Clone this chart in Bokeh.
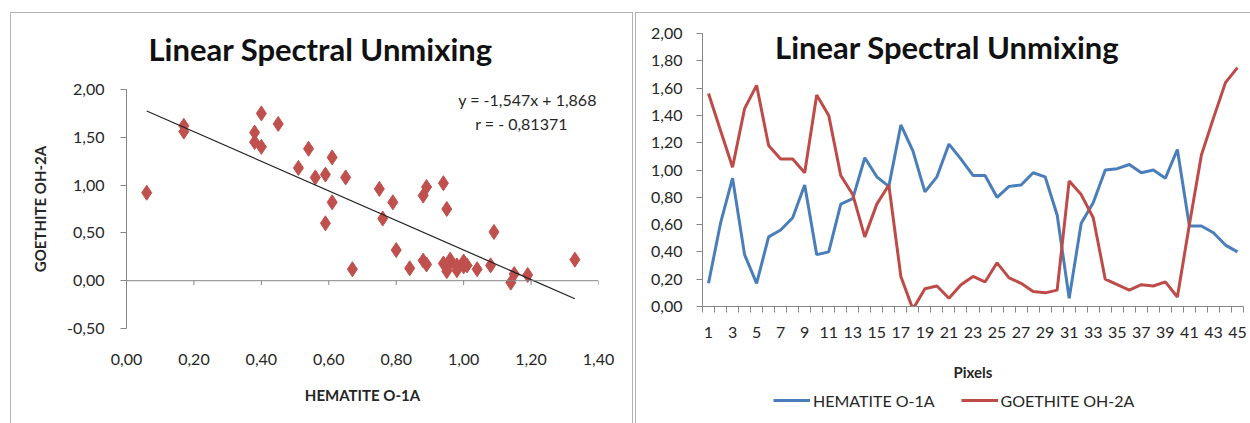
from bokeh.plotting import figure
from bokeh.layouts import row, column
from bokeh.models import FixedTicker, Span, Label, Legend, LegendItem
from bokeh.core.properties import value
from bokeh.embed import file_html
from bokeh.resources import INLINE

# ---------------- data ----------------
pixels = [1, 2, 3, 4, 5, 6, 7, 8, 9, 10, 11, 12, 13, 14, 15, 16, 17, 18, 19, 20, 21, 22, 23,
          24, 25, 26, 27, 28, 29, 30, 31, 32, 33, 34, 35, 36, 37, 38, 39, 40, 41, 42, 43, 44, 45]
hematite = [0.17, 0.61, 0.94, 0.38, 0.17, 0.51, 0.56, 0.65, 0.89, 0.38, 0.40, 0.75, 0.79, 1.09,
            0.95, 0.88, 1.33, 1.14, 0.84, 0.95, 1.19, 1.08, 0.96, 0.96, 0.80, 0.88, 0.89, 0.98,
            0.95, 0.67, 0.06, 0.61, 0.76, 1.00, 1.01, 1.04, 0.98, 1.00, 0.94, 1.15, 0.59, 0.59,
            0.54, 0.45, 0.40]
goethite = [1.56, 1.29, 1.02, 1.45, 1.62, 1.18, 1.08, 1.08, 0.98, 1.55, 1.40, 0.96, 0.82, 0.51,
            0.75, 0.89, 0.22, -0.02, 0.13, 0.15, 0.06, 0.16, 0.22, 0.18, 0.32, 0.21, 0.17, 0.11,
            0.10, 0.12, 0.92, 0.82, 0.65, 0.20, 0.16, 0.12, 0.16, 0.15, 0.18, 0.07, 0.60, 1.11,
            1.38, 1.64, 1.75]
slope = -1.547
intercept = 1.868
r_value = -0.81371

title_text = "Linear Spectral Unmixing"
eq_text = "y = -1,547x + 1,868"
r_text = "r = - 0,81371"
scatter_x_ticks = [0.0, 0.2, 0.4, 0.6, 0.8, 1.0, 1.2, 1.4]
scatter_y_ticks = [-0.5, 0.0, 0.5, 1.0, 1.5, 2.0]
line_y_ticks = [0.0, 0.2, 0.4, 0.6, 0.8, 1.0, 1.2, 1.4, 1.6, 1.8, 2.0]
pixel_label_ticks = pixels[::2]
series_names = ["HEMATITE O-1A", "GOETHITE OH-2A"]


def comma(v):
    return f"{v:.2f}".replace(".", ",")


def frame_lines(lines):
    """CSS background layers drawing thin panel border lines: (x, y, w, h)."""
    g = "linear-gradient(#b3b3b3,#b3b3b3)"
    layers = [f"{g} {x}px {y}px / {w}px {h}px no-repeat" for (x, y, w, h) in lines]
    return ", ".join(layers + ["#ffffff"])


FONT = "Lato"
AX = "#868686"
TXT = "#262626"
BLUE = "#4a7ebb"
RED = "#be4b48"
SCAT = "#c0504d"

# ---------------- left: scatter ----------------
p1 = figure(width=633, height=423, x_range=(0, 1.4), y_range=(-0.5, 2.0),
            output_backend="svg", toolbar_location=None,
            min_border_left=126, min_border_right=35, min_border_top=89, min_border_bottom=95)
p1.styles = {"background": frame_lines([(10, 12, 1, 411), (10, 12, 623, 1), (632, 12, 1, 411)])}
p1.background_fill_color = "white"
p1.border_fill_color = None
p1.outline_line_color = None
p1.xgrid.visible = False
p1.ygrid.visible = False

p1.title.text = title_text
p1.title.align = "left"
p1.title.offset = 22
p1.title.standoff = 43
p1.title.text_font = FONT
p1.title.text_font_size = "31px"
p1.title.text_font_style = "bold"
p1.title.text_color = "#111111"

p1.scatter(hematite, goethite, marker="diamond", size=15, fill_color=SCAT, line_color=SCAT)
xs = [min(hematite), max(hematite)]
p1.line(xs, [slope * x + intercept for x in xs], line_color="#222222", line_width=1.2)

# x axis line at y = 0 with small tick marks
p1.add_layout(Span(location=0, dimension="width", line_color=AX, line_width=1))
p1.segment(x0=scatter_x_ticks, y0=[0] * len(scatter_x_ticks), x1=scatter_x_ticks,
           y1=[-0.045] * len(scatter_x_ticks), line_color=AX, line_width=1)

xa = p1.xaxis[0]
xa.ticker = FixedTicker(ticks=scatter_x_ticks)
xa.major_label_overrides = {v: comma(v) for v in scatter_x_ticks}
xa.axis_line_color = None
xa.major_tick_line_color = None
xa.minor_tick_line_color = None
xa.major_label_standoff = 19
xa.axis_label = "HEMATITE O-1A"
xa.axis_label_standoff = 18
ya = p1.yaxis[0]
ya.ticker = FixedTicker(ticks=scatter_y_ticks)
ya.major_label_overrides = {v: comma(v) for v in scatter_y_ticks}
ya.axis_line_color = AX
ya.major_tick_line_color = AX
ya.major_tick_out = 6
ya.major_tick_in = 0
ya.minor_tick_line_color = None
ya.major_label_standoff = 16
ya.axis_label = "GOETHITE OH-2A"
ya.axis_label_standoff = 15
for ax in (xa, ya):
    ax.major_label_text_font = FONT
    ax.major_label_text_font_size = "16px"
    ax.major_label_text_color = TXT
    ax.axis_label_text_font = FONT
    ax.axis_label_text_font_size = "15px"
    ax.axis_label_text_font_style = "bold"
    ax.axis_label_text_color = TXT

p1.add_layout(Label(x=527, y=99, x_units="canvas", y_units="canvas", text=eq_text,
                    text_font=FONT, text_font_size="16px", text_color=TXT,
                    text_align="center", text_baseline="middle"))
p1.add_layout(Label(x=521, y=123, x_units="canvas", y_units="canvas", text=r_text,
                    text_font=FONT, text_font_size="16px", text_color=TXT,
                    text_align="center", text_baseline="middle"))

# ---------------- right: line chart ----------------
p2 = figure(width=617, height=385, x_range=(0.5, 45.5), y_range=(0, 2.0),
            output_backend="svg", toolbar_location=None,
            min_border_left=69, min_border_right=7, min_border_top=33, min_border_bottom=79)
p2.styles = {"background": frame_lines([(2, 12, 1, 373), (2, 12, 615, 1)])}
p2.background_fill_color = "white"
p2.border_fill_color = None
p2.outline_line_color = None
p2.xgrid.visible = False
p2.ygrid.visible = False

p2.line(pixels, hematite, line_color=BLUE, line_width=3)
p2.line(pixels, goethite, line_color=RED, line_width=3)

p2.text(x=[20.85], y=[1.9], text=[title_text], text_font=value(FONT),
        text_font_size="31px", text_font_style="bold", text_color="#111111",
        text_align="center", text_baseline="middle")

xb = p2.xaxis[0]
xb.ticker = FixedTicker(ticks=pixel_label_ticks,
                        minor_ticks=[v - 0.5 for v in pixels] + [pixels[-1] + 0.5])
xb.axis_line_color = AX
xb.major_tick_line_color = None
xb.major_tick_out = 0
xb.minor_tick_line_color = AX
xb.minor_tick_out = 6
xb.minor_tick_in = 0
xb.major_label_standoff = 14
xb.axis_label = "Pixels"
xb.axis_label_standoff = 22
yb = p2.yaxis[0]
yb.ticker = FixedTicker(ticks=line_y_ticks)
yb.major_label_overrides = {v: comma(v) for v in line_y_ticks}
yb.axis_line_color = AX
yb.major_tick_line_color = AX
yb.major_tick_out = 6
yb.major_tick_in = 0
yb.minor_tick_line_color = None
yb.major_label_standoff = 14
for ax in (xb, yb):
    ax.major_label_text_font = FONT
    ax.major_label_text_font_size = "16px"
    ax.major_label_text_color = TXT
    ax.axis_label_text_font = FONT
    ax.axis_label_text_font_size = "15px"
    ax.axis_label_text_font_style = "bold"
    ax.axis_label_text_color = TXT

# ---------------- legend strip under the line chart ----------------
# the series are drawn again here only so the legend has renderers; the y range
# keeps them out of view, so only the legend swatches show
leg = figure(width=617, height=38, x_range=(0.5, 45.5), y_range=(10, 11),
             output_backend="svg", toolbar_location=None,
             min_border_left=0, min_border_right=0, min_border_top=0, min_border_bottom=0)
leg.styles = {"background": frame_lines([(2, 0, 1, 38)])}
leg.background_fill_color = None
leg.border_fill_color = None
leg.outline_line_color = None
leg.axis.visible = False
leg.grid.visible = False
k_h = leg.line(pixels, hematite, line_color=BLUE, line_width=3)
k_g = leg.line(pixels, goethite, line_color=RED, line_width=3)
legend = Legend(items=[LegendItem(label=series_names[0], renderers=[k_h]),
                       LegendItem(label=series_names[1], renderers=[k_g])],
                orientation="horizontal", location=(71, 13),
                padding=0, margin=0, spacing=26, glyph_width=37, label_standoff=3,
                background_fill_alpha=0, border_line_color=None,
                label_text_font=FONT, label_text_font_size="16px", label_text_color=TXT)
leg.add_layout(legend)

layout = row(p1, column(p2, leg, spacing=0), spacing=0)
open("out.html", "w").write(file_html(layout, INLINE))
